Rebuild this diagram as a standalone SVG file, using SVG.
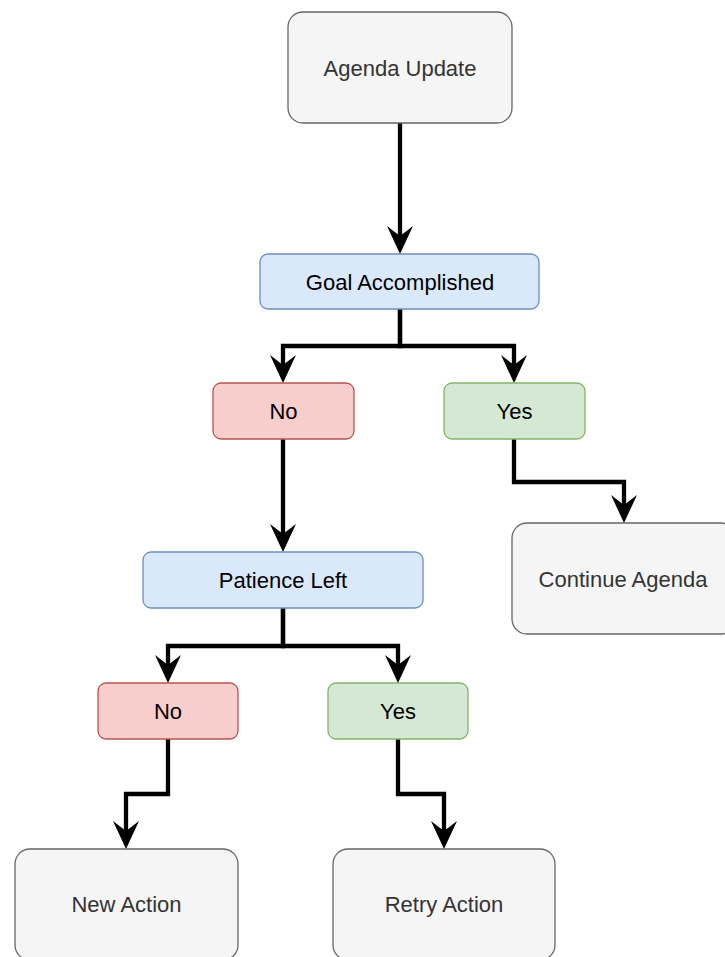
<svg xmlns="http://www.w3.org/2000/svg" width="725" height="957" viewBox="0 0 725 957">
  <style>
    .box rect { stroke-width: 1.3; }
    .plain rect { fill: #f5f5f5; stroke: #666666; }
    .plain text { fill: #333333; }
    .blue rect { fill: #dae8fc; stroke: #6c8ebf; }
    .red rect { fill: #f8cecc; stroke: #b85450; }
    .green rect { fill: #d5e8d4; stroke: #82b366; }
    text { font-family: "Liberation Sans", Arial, Helvetica, sans-serif; font-size: 22px; text-anchor: middle; fill: #000000; }
    .edge { fill: none; stroke: #000000; stroke-width: 4.3; stroke-linejoin: miter; marker-end: url(#arrow); }
  </style>
  <defs>
    <marker id="arrow" markerUnits="userSpaceOnUse" markerWidth="28" markerHeight="26" refX="10" refY="13" orient="auto" overflow="visible">
      <path d="M0,0 L28,13 L0,26 L10,13 Z" fill="#000000"/>
    </marker>
  </defs>

  <rect width="725" height="957" fill="#ffffff"/>

  <g id="connectors">
    <path class="edge" d="M400,123 V236"/>
    <path class="edge" d="M400,309 V346 H283 V365"/>
    <path class="edge" d="M400,309 V346 H514 V365"/>
    <path class="edge" d="M514,439 V482 H624 V505"/>
    <path class="edge" d="M283,439 V534"/>
    <path class="edge" d="M283,608 V646 H168 V665"/>
    <path class="edge" d="M283,608 V646 H398 V665"/>
    <path class="edge" d="M168,739 V794 H126 V831"/>
    <path class="edge" d="M398,739 V794 H444 V831"/>
  </g>

  <g id="agenda-update" class="box plain">
    <rect x="288" y="12" width="224" height="111" rx="15"/>
    <text x="400" y="75.5">Agenda Update</text>
  </g>
  <g id="goal-accomplished" class="box blue">
    <rect x="260" y="254" width="279" height="55" rx="8"/>
    <text x="400" y="289.5">Goal Accomplished</text>
  </g>
  <g id="goal-no" class="box red">
    <rect x="213" y="383" width="141" height="56" rx="8"/>
    <text x="283.5" y="419">No</text>
  </g>
  <g id="goal-yes" class="box green">
    <rect x="444" y="383" width="141" height="56" rx="8"/>
    <text x="514.5" y="419">Yes</text>
  </g>
  <g id="continue-agenda" class="box plain">
    <rect x="512" y="523" width="224" height="111" rx="15"/>
    <text x="623" y="586.5">Continue Agenda</text>
  </g>
  <g id="patience-left" class="box blue">
    <rect x="143" y="552" width="280" height="56" rx="8"/>
    <text x="283" y="588">Patience Left</text>
  </g>
  <g id="patience-no" class="box red">
    <rect x="98" y="683" width="140" height="56" rx="8"/>
    <text x="168" y="719">No</text>
  </g>
  <g id="patience-yes" class="box green">
    <rect x="328" y="683" width="140" height="56" rx="8"/>
    <text x="398" y="719">Yes</text>
  </g>
  <g id="new-action" class="box plain">
    <rect x="15" y="849" width="223" height="111" rx="15"/>
    <text x="126.5" y="912">New Action</text>
  </g>
  <g id="retry-action" class="box plain">
    <rect x="333" y="849" width="222" height="111" rx="15"/>
    <text x="444" y="912">Retry Action</text>
  </g>
</svg>
